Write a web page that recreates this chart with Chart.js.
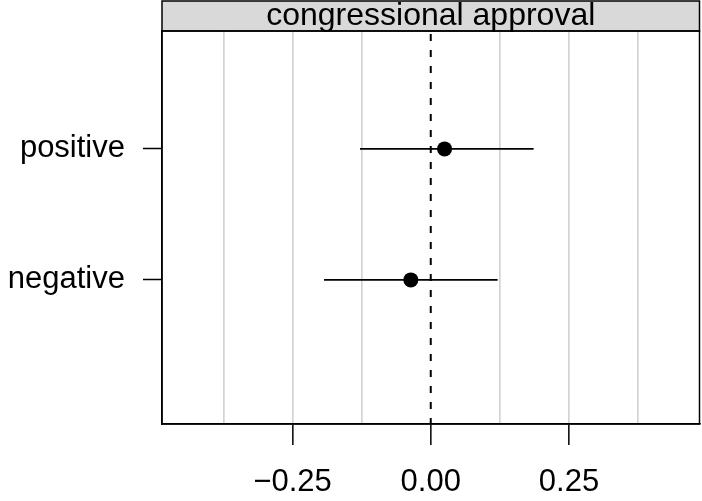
<!DOCTYPE html>
<html><head><meta charset="utf-8">
<script src="https://cdn.jsdelivr.net/npm/chart.js@4/dist/chart.umd.min.js"></script>
<style>html,body{margin:0;padding:0;background:#fff;}canvas{display:block;}</style>
</head><body>
<canvas id="c" width="702" height="501"></canvas>
<script>
const panelTitle = 'congressional approval';
const categories = ['negative', 'positive'];
const estimates = [-0.036, 0.025];
const lowerCI = [-0.193, -0.128];
const upperCI = [0.121, 0.186];
const gridTicks = [-0.375, -0.25, -0.125, 0, 0.125, 0.25, 0.375];
const labeledTicks = [-0.25, 0, 0.25];
const xRange = [-0.486, 0.486];
const yRange = [-0.1, 2.9];

const FONT = 'Liberation Sans, Arial, Helvetica, sans-serif';
const FS = 31;

function fmt(v) {
  const s = Math.abs(v).toFixed(2);
  return v < 0 ? '\u2212' + s : s;
}

const datasets = [];
datasets.push({
  type: 'scatter',
  data: estimates.map((e, i) => ({x: e, y: i + 1})),
  pointRadius: 7.5, pointHoverRadius: 7.5,
  backgroundColor: '#000', borderColor: '#000', borderWidth: 0,
  order: 0
});
categories.forEach((c, i) => {
  datasets.push({
    type: 'line',
    data: [{x: lowerCI[i], y: i + 1}, {x: upperCI[i], y: i + 1}],
    borderColor: '#000', borderWidth: 1.8, pointRadius: 0, fill: false,
    order: 1
  });
});
datasets.push({
  type: 'line',
  data: [{x: 0, y: yRange[1]}, {x: 0, y: yRange[0]}],
  borderColor: '#000', borderWidth: 2, borderDash: [7, 9], borderDashOffset: -3, pointRadius: 0, fill: false,
  order: 2
});

const stripPlugin = {
  id: 'strip',
  afterDraw(chart) {
    const ctx = chart.ctx, a = chart.chartArea;
    const top = 1;
    ctx.save();
    ctx.fillStyle = '#d9d9d9';
    ctx.fillRect(a.left, top, a.right - a.left, a.top - top);
    ctx.strokeStyle = '#000';
    ctx.lineWidth = 1.5;
    ctx.strokeRect(a.left, top, a.right - a.left, a.top - top);
    ctx.strokeRect(a.left, a.top, a.right - a.left, a.bottom - a.top);
    ctx.fillStyle = '#000';
    ctx.font = '32px ' + FONT;
    ctx.textAlign = 'center';
    ctx.textBaseline = 'alphabetic';
    ctx.fillText(panelTitle, (a.left + a.right) / 2, 25);
    ctx.restore();
  }
};

new Chart(document.getElementById('c'), {
  data: {datasets},
  plugins: [stripPlugin],
  options: {
    responsive: false,
    animation: false,
    events: [],
    layout: {autoPadding: false, padding: {top: 31, right: 2.5, left: 0, bottom: 0}},
    plugins: {legend: {display: false}, tooltip: {enabled: false}, title: {display: false}},
    scales: {
      x: {
        type: 'linear', min: xRange[0], max: xRange[1],
        afterBuildTicks: s => { s.ticks = gridTicks.map(v => ({value: v})); },
        afterFit: s => { s.height = 77; s.paddingLeft = 0; s.paddingRight = 0; },
        grid: {
          color: ctx => (ctx.tick && ctx.tick.value === 0) ? 'rgba(0,0,0,0)' : '#d3d3d3',
          lineWidth: 1.7,
          tickColor: ctx => (ctx.tick && labeledTicks.includes(ctx.tick.value)) ? '#000' : 'rgba(0,0,0,0)',
          tickLength: 21,
          tickWidth: 1.5,
          drawTicks: true
        },
        border: {display: true, color: '#000', width: 1.5},
        ticks: {
          autoSkip: false, maxRotation: 0,
          font: {family: FONT, size: FS}, color: '#000', padding: 19,
          callback: v => labeledTicks.includes(v) ? fmt(v) : ''
        }
      },
      y: {
        type: 'linear', min: yRange[0], max: yRange[1],
        afterBuildTicks: s => { s.ticks = categories.map((c, i) => ({value: i + 1})); },
        afterFit: s => { s.width = 162; s.paddingTop = 0; s.paddingBottom = 0; },
        grid: {drawOnChartArea: false, drawTicks: true, tickLength: 19, tickColor: '#000', tickWidth: 1.5},
        border: {display: true, color: '#000', width: 1.5},
        ticks: {
          font: {family: FONT, size: FS}, color: '#000', padding: 18,
          callback: v => categories[Math.round(v) - 1] || ''
        }
      }
    }
  }
});
</script>
</body></html>
